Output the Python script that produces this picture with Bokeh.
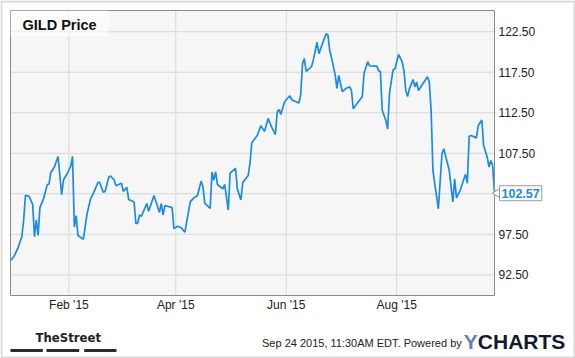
import math
import pandas as pd
from bokeh.plotting import figure
from bokeh.models import (FixedTicker, DatetimeTickFormatter, NumeralTickFormatter,
                          Label, BoxAnnotation, Range1d, ColumnDataSource)
from bokeh.embed import file_html
from bokeh.resources import INLINE

# ---------------- data ----------------
title_text = "GILD Price"
dates = [
    "2014-12-31", "2015-01-02", "2015-01-04", "2015-01-06", "2015-01-07", "2015-01-08",
    "2015-01-10", "2015-01-12", "2015-01-13", "2015-01-14", "2015-01-15", "2015-01-16",
    "2015-01-18", "2015-01-20", "2015-01-21", "2015-01-22", "2015-01-24", "2015-01-26",
    "2015-01-28", "2015-01-29", "2015-01-31", "2015-02-02", "2015-02-03", "2015-02-04",
    "2015-02-05", "2015-02-06", "2015-02-09", "2015-02-11", "2015-02-13", "2015-02-15",
    "2015-02-17", "2015-02-18", "2015-02-20", "2015-02-21", "2015-02-23", "2015-02-24",
    "2015-02-26", "2015-02-27", "2015-03-02", "2015-03-03", "2015-03-05", "2015-03-06",
    "2015-03-09", "2015-03-10", "2015-03-11", "2015-03-12", "2015-03-13", "2015-03-16",
    "2015-03-17", "2015-03-20", "2015-03-23", "2015-03-24", "2015-03-25", "2015-03-26",
    "2015-03-30", "2015-03-31", "2015-04-02", "2015-04-04", "2015-04-06", "2015-04-09",
    "2015-04-11", "2015-04-13", "2015-04-15", "2015-04-16", "2015-04-17", "2015-04-20",
    "2015-04-21", "2015-04-22", "2015-04-23", "2015-04-24", "2015-04-27", "2015-04-28",
    "2015-04-30", "2015-05-01", "2015-05-04", "2015-05-05", "2015-05-07", "2015-05-08",
    "2015-05-11", "2015-05-12", "2015-05-13", "2015-05-16", "2015-05-18", "2015-05-20",
    "2015-05-22", "2015-05-24", "2015-05-26", "2015-05-27", "2015-05-28", "2015-05-29",
    "2015-05-31", "2015-06-01", "2015-06-03", "2015-06-04", "2015-06-08", "2015-06-09",
    "2015-06-10", "2015-06-11", "2015-06-12", "2015-06-15", "2015-06-16", "2015-06-18",
    "2015-06-19", "2015-06-23", "2015-06-24", "2015-06-25", "2015-06-26", "2015-06-28",
    "2015-06-29", "2015-06-30", "2015-07-02", "2015-07-04", "2015-07-06", "2015-07-07",
    "2015-07-08", "2015-07-10", "2015-07-13", "2015-07-14", "2015-07-16", "2015-07-17",
    "2015-07-19", "2015-07-21", "2015-07-22", "2015-07-23", "2015-07-24", "2015-07-26",
    "2015-07-27", "2015-07-28", "2015-07-30", "2015-07-31", "2015-08-02", "2015-08-04",
    "2015-08-05", "2015-08-06", "2015-08-07", "2015-08-08", "2015-08-10", "2015-08-11",
    "2015-08-12", "2015-08-13", "2015-08-18", "2015-08-19", "2015-08-20", "2015-08-21",
    "2015-08-22", "2015-08-24", "2015-08-26", "2015-08-27", "2015-08-30", "2015-09-01",
    "2015-09-02", "2015-09-03", "2015-09-05", "2015-09-08", "2015-09-09", "2015-09-10",
    "2015-09-11", "2015-09-14", "2015-09-15", "2015-09-17", "2015-09-18", "2015-09-20",
    "2015-09-21", "2015-09-22", "2015-09-23", "2015-09-24",
]
prices = [
    94.3, 94.9, 95.9, 97.2, 99.2, 102.3,
    102.2, 101.2, 97.2, 99.3, 97.35, 100.8,
    101.9, 103.6, 103.7, 105.1, 105.8, 107.1,
    102.4, 104.2, 104.97, 105.9, 107.1, 98.4,
    99.8, 97.35, 96.9, 100.0, 101.9, 102.8,
    103.9, 103.9, 102.7, 102.8, 104.55, 104.7,
    104.2, 103.5, 103.8, 102.8, 103.3, 101.8,
    101.5, 98.8, 98.9, 99.9, 99.7, 101.3,
    100.35, 102.3, 100.2, 101.3, 99.9, 101.05,
    100.8, 98.2, 98.5, 98.3, 97.75, 101.5,
    102.0, 102.3, 104.05, 103.4, 101.35, 100.7,
    105.2, 104.15, 105.2, 103.65, 103.1, 103.65,
    100.5, 105.05, 105.65, 103.1, 101.75, 103.9,
    104.75, 106.3, 108.8, 109.7, 110.9, 110.2,
    111.8, 110.7, 109.8, 112.6, 112.9, 112.3,
    113.8, 114.1, 114.6, 114.1, 113.7, 114.75,
    118.55, 119.2, 117.6, 118.2, 119.05, 121.2,
    119.8, 122.25, 122.1, 120.2, 119.3, 117.2,
    115.5, 117.1, 115.1, 115.5, 115.7, 115.25,
    113.0, 113.6, 114.5, 117.4, 118.8, 118.3,
    118.25, 118.25, 117.7, 117.6, 112.8, 111.55,
    110.5, 114.85, 117.8, 117.9, 119.7, 118.8,
    117.7, 115.25, 114.5, 115.45, 116.6, 115.7,
    116.3, 115.25, 116.95, 116.3, 112.8, 105.4,
    103.75, 100.65, 107.45, 108.05, 105.4, 101.5,
    104.35, 102.0, 102.9, 104.9, 103.8, 109.6,
    109.7, 109.4, 110.9, 111.6, 108.45, 107.0,
    105.8, 106.6, 106.0, 102.57,
]
y_ticks = [92.5, 97.5, 102.5, 107.5, 112.5, 117.5, 122.5]
x_tick_dates = ["2015-02-01", "2015-04-01", "2015-06-01", "2015-08-01"]
x_start, x_end = "2014-12-30 18:00", "2015-09-24 00:00"
y_start, y_end = 89.95, 125.12
footer_text = "Sep 24 2015, 11:30AM EDT.  Powered by"
brand_left = "TheStreet"
brand_y = "Y"
brand_rest = "CHARTS"

# ---------------- layout (pixels) ----------------
W, H = 575, 358
PL, PR, PT, PB = 10, 494, 10, 295          # plot area inside the canvas
LINE = "#1b8be6"
FONT = "Liberation Sans"

xs, xe = pd.Timestamp(x_start), pd.Timestamp(x_end)
x_per_px = (xe - xs) / (PR - PL)
y_per_px = (y_end - y_start) / (PB - PT)
full_x = Range1d(xs - PL * x_per_px, xe + (W - PR) * x_per_px)
full_y = Range1d(y_start - (H - PB) * y_per_px, y_end + PT * y_per_px)

src = ColumnDataSource(dict(date=pd.to_datetime(dates), price=prices))

p = figure(width=W, height=H, x_axis_type="datetime", y_axis_location="right",
           toolbar_location=None, tools="", output_backend="svg", title=None,
           x_range=full_x, y_range=full_y,
           min_border_left=0, min_border_right=0, min_border_top=0, min_border_bottom=0)
p.background_fill_color = "white"
p.border_fill_color = "white"
p.outline_line_color = None
p.xgrid.visible = False
p.ygrid.visible = False

# plot area background
p.quad(left=[xs], right=[xe], bottom=[y_start], top=[y_end],
       fill_color="#f6f6f6", line_color=None)

# grid lines from the tick lists
xt_vals = pd.to_datetime(x_tick_dates)
p.segment(x0=xt_vals, y0=[y_start] * len(xt_vals), x1=xt_vals, y1=[y_end] * len(xt_vals),
          line_color="#d8d8d8", line_width=1)
p.segment(x0=[xs] * len(y_ticks), y0=y_ticks, x1=[xe] * len(y_ticks), y1=y_ticks,
          line_color="#d8d8d8", line_width=1)

# price line
p.line("date", "price", source=src, line_color=LINE, line_width=1.7)

# plot area outline
p.quad(left=[xs], right=[xe], bottom=[y_start], top=[y_end],
       fill_color=None, line_color="#8a8a8a", line_width=1)

# axes pinned to the plot-area edges
xaxis, yaxis = p.xaxis[0], p.yaxis[0]
xaxis.ticker = FixedTicker(ticks=[t.value / 1e6 for t in xt_vals])
xaxis.formatter = DatetimeTickFormatter(months="%b '%y", days="%b '%y")
xaxis.fixed_location = y_start
yaxis.ticker = FixedTicker(ticks=y_ticks)
yaxis.formatter = NumeralTickFormatter(format="0.00")
yaxis.fixed_location = xe.value / 1e6
for ax in (xaxis, yaxis):
    ax.axis_line_color = None
    ax.major_tick_line_color = None
    ax.minor_tick_line_color = None
    ax.major_tick_out = 0
    ax.major_tick_in = 0
    ax.minor_tick_out = 0
    ax.major_label_text_font = FONT
    ax.major_label_text_font_size = "12px"
    ax.major_label_text_color = "#222222"
xaxis.major_label_standoff = 2
yaxis.major_label_standoff = 4

# screen helpers (frame == canvas, y measured from the bottom)
def sy(y_top):
    return H - y_top

# title box
p.add_layout(BoxAnnotation(left=PL, right=108, top=sy(PT), bottom=sy(36),
                           left_units="screen", right_units="screen",
                           top_units="screen", bottom_units="screen",
                           fill_color="white", fill_alpha=0.55, line_color=None))
p.add_layout(Label(x=22, y=sy(24.3), x_units="screen", y_units="screen", text=title_text,
                   text_font=FONT, text_font_size="14.5px", text_font_style="bold",
                   text_color="#111111", text_baseline="alphabetic"))

# last value tag: pointer + boxed value
last_date = pd.Timestamp(dates[-1])
p.scatter(x=[last_date + 3 * x_per_px], y=[prices[-1]], marker="triangle",
          angle=math.pi / 2, size=9, fill_color="white", line_color="#9a9a9a",
          line_width=1)
p.add_layout(Label(x=last_date, y=prices[-1], x_offset=5, text=f"{prices[-1]:.2f}",
                   text_font=FONT, text_font_size="12.5px", text_font_style="bold",
                   text_color=LINE, text_baseline="middle", text_align="left",
                   background_fill_color="white", border_line_color="#9a9a9a",
                   padding=(2, 3)))

# footer
p.add_layout(Label(x=35, y=sy(336.5), x_units="screen", y_units="screen", text=brand_left,
                   text_font="DejaVu Sans Condensed", text_font_size="13px",
                   text_font_style="bold", text_color="#222222",
                   text_baseline="alphabetic"))
for l, r in [(10, 42.3), (46, 78.7), (83.7, 116)]:
    p.add_layout(BoxAnnotation(left=l, right=r, top=sy(348.5), bottom=sy(351.5),
                               left_units="screen", right_units="screen",
                               top_units="screen", bottom_units="screen",
                               fill_color="#2b2b2b", fill_alpha=1, line_color=None))
p.add_layout(Label(x=261.5, y=sy(342.8), x_units="screen", y_units="screen", text=footer_text,
                   text_font=FONT, text_font_size="11px", text_color="#222222",
                   text_baseline="alphabetic"))
p.add_layout(Label(x=463.3, y=sy(341.3), x_units="screen", y_units="screen", text=brand_y,
                   text_font=FONT, text_font_size="21px", text_font_style="bold",
                   text_color="#6b7dc0", text_baseline="alphabetic"))
p.add_layout(Label(x=477.3, y=sy(341.3), x_units="screen", y_units="screen", text=brand_rest,
                   text_font=FONT, text_font_size="21px", text_font_style="bold",
                   text_color="#141a2b", text_baseline="alphabetic"))

# outer frame of the image
p.add_layout(BoxAnnotation(left=1, right=W - 1, top=H - 1, bottom=1,
                           left_units="screen", right_units="screen",
                           top_units="screen", bottom_units="screen",
                           fill_color=None, line_color="#808080", line_width=2))

open("out.html", "w").write(file_html(p, INLINE))
